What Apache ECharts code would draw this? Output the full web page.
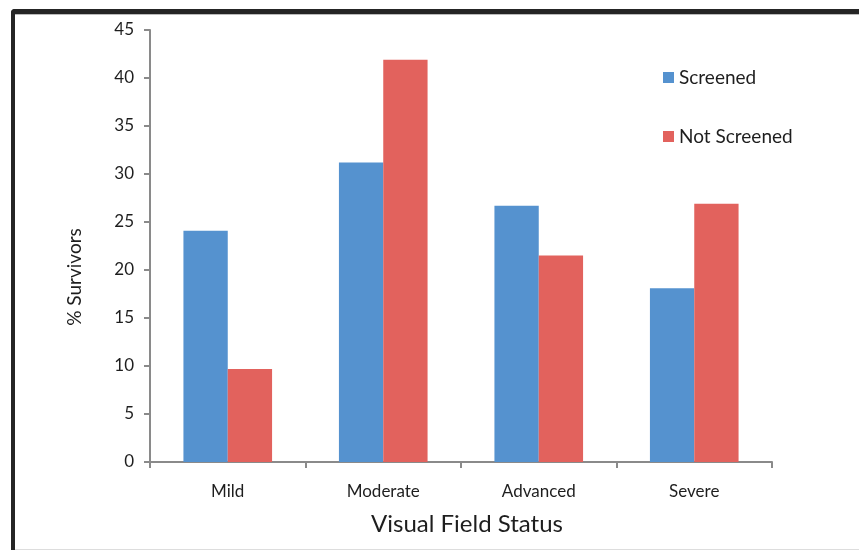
<!DOCTYPE html>
<html>
<head>
<meta charset="utf-8">
<script src="https://cdn.jsdelivr.net/npm/echarts@6/dist/echarts.min.js"></script>
<style>
  html, body { margin: 0; padding: 0; background: #fff; }
  #wrap { position: relative; width: 859px; height: 550px; overflow: hidden; }
  #chart { position: absolute; left: 0; top: 0; width: 859px; height: 550px; }
  #frame {
    position: absolute; left: 11px; top: 9px; right: -10px; bottom: 0;
    border-top: 5px solid #252525; border-left: 4px solid #252525;
    border-top-left-radius: 4px; pointer-events: none;
    box-shadow: inset 0 1px 0 #bbb;
  }
  #bottomline { position: absolute; left: 15px; right: 0; bottom: 0; height: 1px; background: #ddd; }
</style>
</head>
<body>
<div id="wrap">
  <div id="chart"></div>
  <div id="frame"></div>
  <div id="bottomline"></div>
</div>
<script>
// Share of survivors by visual field status, screened vs not screened
const categories = ['Mild', 'Moderate', 'Advanced', 'Severe'];
const screened = [24.1, 31.2, 26.7, 18.1];
const notScreened = [9.7, 41.9, 21.5, 26.9];
const seriesNames = ['Screened', 'Not Screened'];
const yAxisTitle = '% Survivors';
const xAxisTitle = 'Visual Field Status';

const font = 'Lato, "Open Sans", sans-serif';
const axisGray = '#8a8a8a';
const textColor = '#1e1e1e';

const chart = echarts.init(document.getElementById('chart'), null, { renderer: 'canvas' });
chart.setOption({
  animation: false,
  backgroundColor: '#fff',
  textStyle: { fontFamily: font },
  grid: { left: 150, right: 87, top: 30, bottom: 88, containLabel: false },
  legend: {
    orient: 'vertical',
    left: 658, top: 63,
    itemWidth: 11, itemHeight: 11, itemGap: 40,
    icon: 'rect',
    textStyle: { fontFamily: font, fontSize: 19, color: textColor },
    data: seriesNames
  },
  xAxis: {
    type: 'category',
    data: categories,
    name: xAxisTitle,
    nameLocation: 'middle',
    nameGap: 50,
    nameTextStyle: { fontFamily: font, fontSize: 24, color: textColor, padding: [0, 0, 0, 12] },
    axisLine: { lineStyle: { color: axisGray, width: 2 } },
    axisTick: { show: true, inside: false, length: 6, alignWithLabel: false, lineStyle: { color: axisGray, width: 2 } },
    axisLabel: { margin: 21, fontFamily: font, fontSize: 17, color: textColor }
  },
  yAxis: {
    type: 'value',
    min: 0, max: 45, interval: 5,
    name: yAxisTitle,
    nameLocation: 'middle',
    nameGap: 66,
    nameRotate: 90,
    nameTextStyle: { fontFamily: font, fontSize: 19, color: textColor, padding: [0, 62, 0, 0] },
    axisLine: { show: true, lineStyle: { color: axisGray, width: 2 } },
    axisTick: { show: true, inside: false, length: 6, lineStyle: { color: axisGray, width: 2 } },
    axisLabel: { margin: 16, fontFamily: font, fontSize: 17, color: textColor },
    splitLine: { show: false }
  },
  series: [
    {
      name: seriesNames[0], type: 'bar', data: screened,
      barGap: '0%', barCategoryGap: '43%',
      itemStyle: { color: '#5592CF' }
    },
    {
      name: seriesNames[1], type: 'bar', data: notScreened,
      barGap: '0%', barCategoryGap: '43%',
      itemStyle: { color: '#E2625D' }
    }
  ]
});
</script>
</body>
</html>
